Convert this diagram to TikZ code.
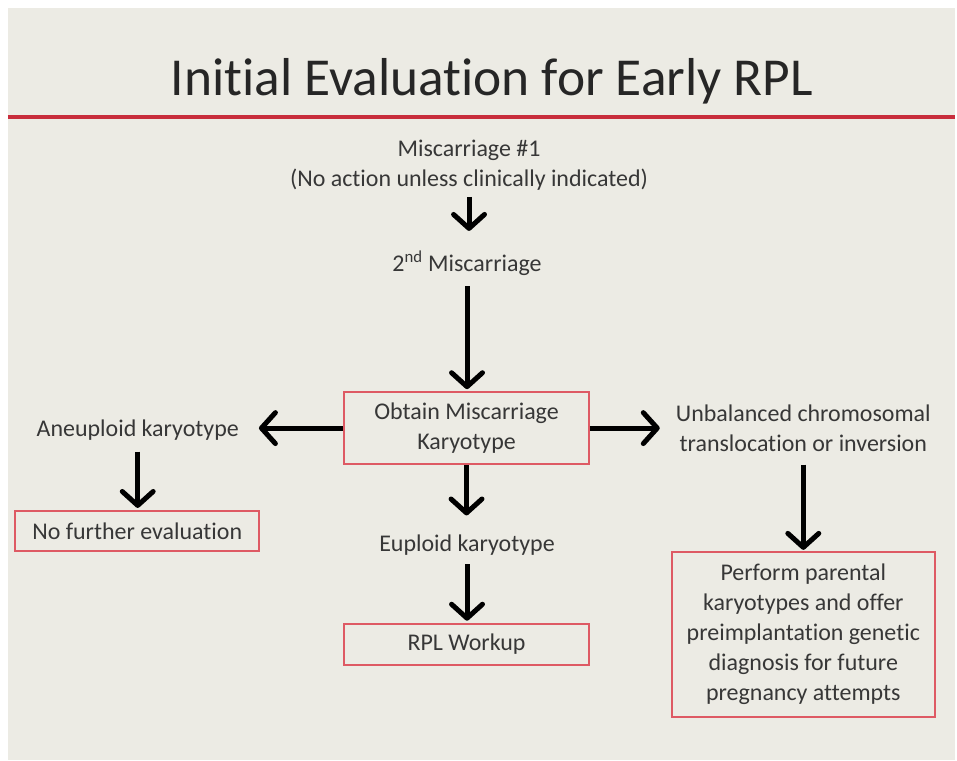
\documentclass[tikz,border=0pt]{standalone}
\usepackage{fontspec}
\setmainfont{Carlito}[Ligatures=NoCommon]
\usetikzlibrary{arrows.meta}
\definecolor{slidebg}{RGB}{236,235,228}
\definecolor{rulered}{RGB}{200,45,60}
\definecolor{boxred}{RGB}{222,90,100}
\definecolor{txtgray}{RGB}{55,55,55}
\tikzset{
  lbl/.style={text=txtgray, font=\fontsize{24}{30}\selectfont, align=center, inner sep=0pt},
  redbox/.style={lbl, draw=boxred, line width=2pt},
  bigarrow/.style={line width=5pt, -{Straight Barb[length=14pt,width=31pt,round]}},
}
\begin{document}
\begin{tikzpicture}[x=1pt,y=-1pt]
  % slide background
  \fill[white] (0,0) rectangle (957,762);
  \fill[slidebg] (8,8) rectangle (957,762);
  \draw[rulered, line width=4pt] (8,117) -- (957,117);
  \node[text=black!85, font=\fontsize{53.5}{60}\selectfont] (title) at (493,81) {Initial Evaluation for Early RPL};

  % center column
  \node[lbl] (m1) at (470,166) {Miscarriage \#1\\(No action unless clinically indicated)};
  \node[lbl] (m2) at (468,264) {2\textsuperscript{nd} Miscarriage};
  \node[redbox, minimum width=245pt, minimum height=72pt] (obtain) at (467.5,429) {Obtain Miscarriage\\Karyotype};
  \node[lbl] (euploid) at (468,546) {Euploid karyotype};
  \node[redbox, minimum width=245pt, minimum height=41pt] (rpl) at (467.5,645.5) {RPL Workup};

  % left branch
  \node[lbl] (aneu) at (138,431) {Aneuploid karyotype};
  \node[redbox, minimum width=245pt, minimum height=40pt] (nofur) at (137.5,532) {No further evaluation};

  % right branch
  \node[lbl] (unbal) at (805,429) {Unbalanced chromosomal\\translocation or inversion};
  \node[redbox, minimum width=264pt, minimum height=165pt] (perform) at (805,635.5) {Perform parental\\karyotypes and offer\\preimplantation genetic\\diagnosis for future\\pregnancy attempts};

  % arrows
  \draw[bigarrow, shorten <=6pt, shorten >=20pt] (m1.south) -- (m1.south |- m2.north);
  \draw[bigarrow, shorten <=10pt, shorten >=2pt] (m2.south) -- (m2.south |- obtain.north);
  \draw[bigarrow, shorten >=20pt] (obtain.west) -- (obtain.west -| aneu.east);
  \draw[bigarrow, shorten <=11pt, shorten >=2pt] (aneu.south) -- (aneu.south |- nofur.north);
  \draw[bigarrow, shorten >=16pt] (obtain.east) -- (obtain.east -| unbal.west);
  \draw[bigarrow, shorten <=13pt, shorten >=1pt] (unbal.south) -- (unbal.south |- perform.north);
  \draw[bigarrow, shorten >=19pt] (obtain.south) -- (obtain.south |- euploid.north);
  \draw[bigarrow, shorten <=9pt, shorten >=2pt] (euploid.south) -- (euploid.south |- rpl.north);
\end{tikzpicture}
\end{document}
